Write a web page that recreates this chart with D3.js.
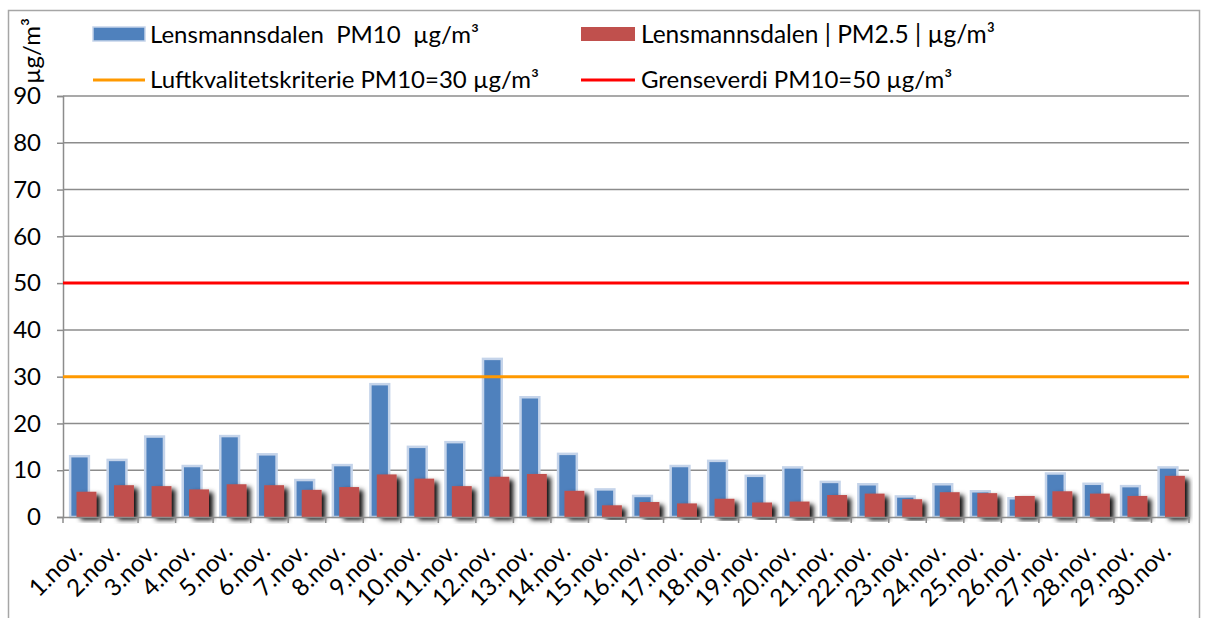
<!DOCTYPE html>
<html><head><meta charset="utf-8">
<script src="https://cdn.jsdelivr.net/npm/d3@7/dist/d3.min.js"></script>
<style>body{margin:0;background:#fff}svg{display:block}text{font-family:Lato,"Open Sans",sans-serif;fill:#000;white-space:pre}</style>
</head><body>
<svg id="c" width="1207" height="618"></svg>
<script>
const categories = ["1.nov.","2.nov.","3.nov.","4.nov.","5.nov.","6.nov.","7.nov.","8.nov.","9.nov.","10.nov.","11.nov.","12.nov.","13.nov.","14.nov.","15.nov.","16.nov.","17.nov.","18.nov.","19.nov.","20.nov.","21.nov.","22.nov.","23.nov.","24.nov.","25.nov.","26.nov.","27.nov.","28.nov.","29.nov.","30.nov."];
const pm10 = [13.0,12.2,17.2,10.9,17.3,13.4,7.9,11.1,28.4,15.0,16.0,33.8,25.6,13.5,5.9,4.5,10.9,12.0,8.8,10.6,7.5,7.0,4.4,7.0,5.5,4.0,9.3,7.1,6.6,10.6];
const pm25 = [5.4,6.8,6.6,5.9,7.0,6.8,5.8,6.4,9.1,8.2,6.6,8.6,9.2,5.6,2.5,3.2,2.9,3.9,3.1,3.3,4.7,5.0,3.8,5.3,5.1,4.5,5.5,5.0,4.5,8.8];
const yTicks = [0,10,20,30,40,50,60,70,80,90];
const limitAQ = 30, limitGV = 50;
const seriesNames = ["Lensmannsdalen  PM10  µg/m³","Lensmannsdalen | PM2.5 | µg/m³","Luftkvalitetskriterie PM10=30 µg/m³","Grenseverdi PM10=50 µg/m³"];
const yTitle = "µg/m³";

const svg = d3.select("#c");
const defs = svg.append("defs");
const f = defs.append("filter").attr("id","sh").attr("x","-20%").attr("y","-20%").attr("width","160%").attr("height","140%");
f.append("feDropShadow").attr("dx",4).attr("dy",3).attr("stdDeviation",2.5).attr("flood-color","#000").attr("flood-opacity",0.95);

svg.append("rect").attr("x",8.5).attr("y",10.5).attr("width",1191).attr("height",620).attr("fill","none").attr("stroke","#a6a6a6").attr("stroke-width",1.5);

const L = 63, R = 1189, T = 96, B = 517;
const x = d3.scaleBand().domain(categories).range([L,R]).padding(0);
const y = d3.scaleLinear().domain([0,90]).range([B,T]);

// gridlines
svg.append("g").selectAll("line").data(yTicks.slice(1)).join("line")
  .attr("x1",L).attr("x2",R).attr("y1",d=>y(d)).attr("y2",d=>y(d))
  .attr("stroke","#8c8c8c").attr("stroke-width",1.5);

// y axis
const ya = svg.append("g").attr("transform",`translate(${L},0)`)
  .call(d3.axisLeft(y).tickValues(yTicks).tickSize(6).tickPadding(16));
ya.select(".domain").attr("stroke","#8c8c8c").attr("stroke-width",1.5);
ya.selectAll(".tick line").attr("stroke","#8c8c8c").attr("stroke-width",1.5);
ya.selectAll(".tick text").attr("font-size",24).attr("font-family","Lato, sans-serif").attr("fill","#000");

// bars
const bw = x.bandwidth();
svg.append("g").selectAll("rect").data(pm10).join("rect")
  .attr("x",(d,i)=>x(categories[i])+bw*0.19).attr("width",bw*0.5)
  .attr("y",d=>y(d)).attr("height",d=>B-y(d))
  .attr("fill","#4f81bd").attr("stroke","#c5d4ea").attr("stroke-width",2.5);
svg.append("g").selectAll("rect").data(pm25).join("rect")
  .attr("x",(d,i)=>x(categories[i])+bw*0.36).attr("width",bw*0.53)
  .attr("y",d=>y(d)).attr("height",d=>B-y(d))
  .attr("fill","#c0504d").attr("filter","url(#sh)");

// limit lines
svg.append("line").attr("x1",L).attr("x2",R).attr("y1",y(limitAQ)).attr("y2",y(limitAQ)).attr("stroke","#ff9900").attr("stroke-width",3);
svg.append("line").attr("x1",L).attr("x2",R).attr("y1",y(limitGV)).attr("y2",y(limitGV)).attr("stroke","#ff0000").attr("stroke-width",3);

// x axis
const xa = svg.append("g").attr("transform",`translate(0,${B})`)
  .call(d3.axisBottom(x).tickSize(0).tickFormat(""));
xa.select(".domain").attr("stroke","#8c8c8c").attr("stroke-width",1.5);
svg.append("g").selectAll("line").data(d3.range(categories.length+1)).join("line")
  .attr("x1",i=>L+i*bw).attr("x2",i=>L+i*bw).attr("y1",B).attr("y2",B+6)
  .attr("stroke","#8c8c8c").attr("stroke-width",1.5);
svg.append("g").selectAll("text").data(categories).join("text")
  .attr("transform",d=>`translate(${x(d)+bw/2+2},${B+36}) rotate(-45)`)
  .attr("text-anchor","end").attr("font-size",24).text(d=>d);

// y title
svg.append("text").attr("transform","translate(40,51) rotate(-90)").attr("text-anchor","middle").attr("font-size",24).text(yTitle);

// legend
const lg = svg.append("g");
lg.append("rect").attr("x",93).attr("y",27).attr("width",52).attr("height",14).attr("fill","#4f81bd").attr("stroke","#c5d4ea").attr("stroke-width",1.5);
lg.append("text").attr("x",150).attr("y",43).attr("font-size",24).text(seriesNames[0]);
lg.append("rect").attr("x",581).attr("y",27).attr("width",54).attr("height",14).attr("fill","#c0504d");
lg.append("text").attr("x",641).attr("y",43).attr("font-size",24.5).text(seriesNames[1]);
lg.append("line").attr("x1",93).attr("x2",145).attr("y1",80).attr("y2",80).attr("stroke","#ff9900").attr("stroke-width",3);
lg.append("text").attr("x",150).attr("y",88).attr("font-size",24).text(seriesNames[2]);
lg.append("line").attr("x1",581).attr("x2",635).attr("y1",80).attr("y2",80).attr("stroke","#ff0000").attr("stroke-width",3);
lg.append("text").attr("x",641).attr("y",88).attr("font-size",24).text(seriesNames[3]);
</script>
</body></html>
